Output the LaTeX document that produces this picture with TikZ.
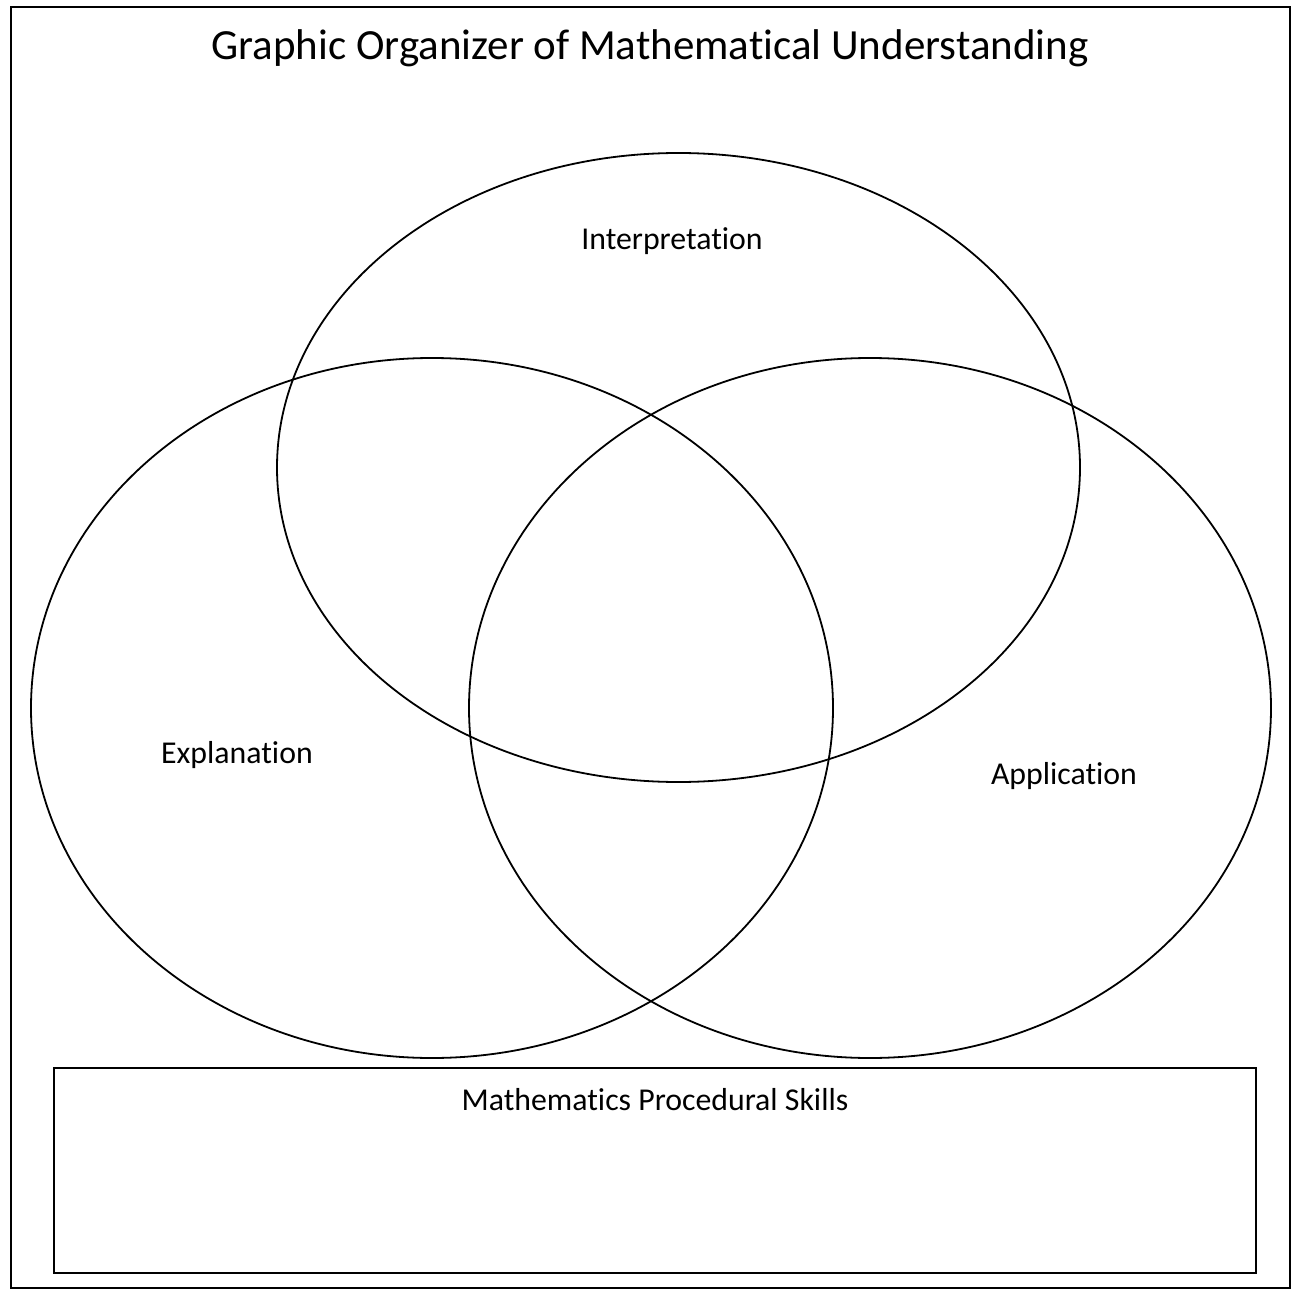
\documentclass[tikz,border=0pt]{standalone}
\usepackage{fontspec}
\setmainfont{Carlito}[Ligatures=CommonOff]
\usepackage{tikz}

\begin{document}
\begin{tikzpicture}[
  x=1pt, y=-1pt,
  ring/.style={draw, line width=1.8pt},
  lbl/.style={font=\fontsize{31.8}{36}\selectfont, inner sep=0pt},
  ttl/.style={font=\fontsize{43}{50}\selectfont, inner sep=0pt}
]
\useasboundingbox (0,0) rectangle (1302,1300);
\draw[line width=2pt] (11,7) rectangle (1290,1288);
\node[ttl] (title) at (650,48) {Graphic Organizer of Mathematical Understanding};

\draw[ring] (678.5,467.5) ellipse [x radius=401.5, y radius=314.5];
\draw[ring] (432,708) ellipse [x radius=401, y radius=350];
\draw[ring] (870,708) ellipse [x radius=401, y radius=350];

\node[lbl] (interp) at (672,241) {Interpretation};
\node[lbl] (expl) at (237,755) {Explanation};
\node[lbl] (appl) at (1064,776) {Application};

\draw[line width=1.8pt] (54,1068) rectangle (1256,1273);
\node[lbl] (skills) at (655,1100) {Mathematics Procedural Skills};
\end{tikzpicture}
\end{document}
